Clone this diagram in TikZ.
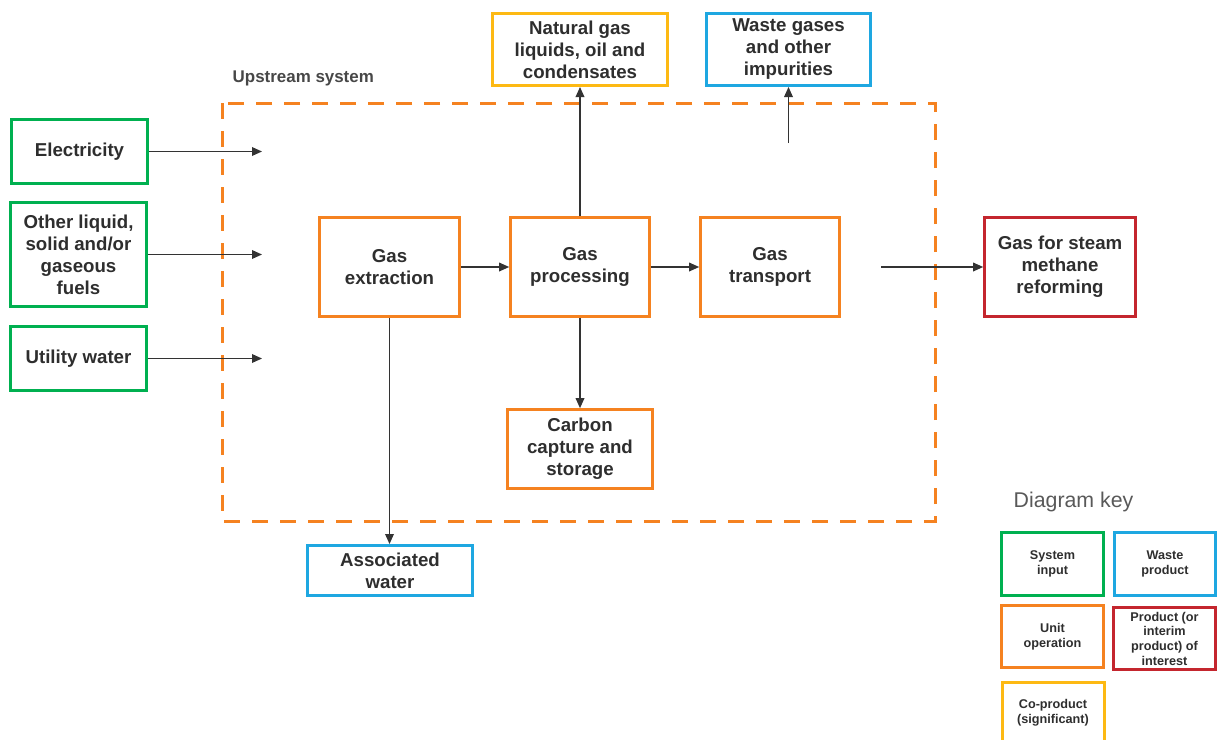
\documentclass[tikz,border=0pt]{standalone}
\usepackage{fontspec}
\setmainfont{Liberation Sans}
\usetikzlibrary{arrows.meta}
\definecolor{cgreen}{HTML}{00B050}
\definecolor{corange}{HTML}{F58220}
\definecolor{cblue}{HTML}{1EA7E1}
\definecolor{cred}{HTML}{C4262E}
\definecolor{cyellow}{HTML}{FDB913}
\definecolor{ctext}{HTML}{2E2E2E}
\definecolor{ckey}{HTML}{595959}
\definecolor{carrow}{HTML}{333333}
\tikzset{
  box/.style={draw, line width=2.25pt, fill=white, align=center, inner sep=0pt,
    text=ctext, font=\fontsize{14}{16.5}\selectfont\bfseries},
  inbox/.style={box, draw=cgreen},
  opbox/.style={box, draw=corange},
  wastebox/.style={box, draw=cblue},
  prodbox/.style={box, draw=cred},
  cobox/.style={box, draw=cyellow},
  keytext/.style={font=\fontsize{9.5}{11}\selectfont\bfseries},
  flow/.style={draw=carrow, line width=0.95pt, -{Triangle[length=7.5pt,width=6.5pt]}},
}
\begin{document}
\begin{tikzpicture}[x=0.75pt,y=-0.75pt]
\useasboundingbox (0,0) rectangle (1217,739);
% system boundary
\draw[corange, line width=2.25pt, dash pattern=on 12pt off 9pt] (222,103) rectangle (935,521);
\node[anchor=west, text=ckey!80!black, font=\fontsize{12.7}{15}\selectfont\bfseries] (ups) at (228,78) {Upstream system};

% inputs
\node[inbox, minimum width=102pt, minimum height=48pt] (elec) at (79.5,151.5) {Electricity};
\node[inbox, minimum width=102pt, minimum height=78pt] (fuel) at (78.5,254.5) {Other liquid,\\solid and/or\\gaseous\\fuels};
\node[inbox, minimum width=102pt, minimum height=48pt] (uwat) at (78.5,358.5) {Utility water};

\coordinate (ein) at (262,151.5);
\coordinate (fin) at (262,254.5);
\coordinate (win) at (262,358.5);

% unit operations
\node[opbox, minimum width=105pt, minimum height=74pt] (ext) at (389.5,267) {Gas\\extraction};
\node[opbox, minimum width=104pt, minimum height=74pt] (proc) at (580,267) {Gas\\processing};
\node[opbox, minimum width=104pt, minimum height=74pt] (trans) at (770,267) {Gas\\transport};
\node[opbox, minimum width=109pt, minimum height=59pt] (ccs) at (580,449) {Carbon\\capture and\\storage};

% outputs
\node[prodbox, minimum width=113pt, minimum height=74pt] (gsmr) at (1060,267) {Gas for steam\\methane\\reforming};
\node[cobox, minimum width=131pt, minimum height=54pt] (ngl) at (580,49.5) {Natural gas\\liquids, oil and\\condensates};
\node[wastebox, minimum width=123pt, minimum height=54pt] (wg) at (788.5,49.5) {Waste gases\\and other\\impurities};
\node[wastebox, minimum width=124pt, minimum height=37.5pt] (aw) at (390,570.5) {Associated\\water};

\coordinate (tout) at (881,267);
\coordinate (wgs) at (788.5,143);

% connectors
\draw[flow] (elec.east) -- (ein);
\draw[flow] (fuel.east) -- (fin);
\draw[flow] (uwat.east) -- (win);
\draw[flow] (ext.east) -- (proc.west);
\draw[flow] (proc.east) -- (trans.west);
\draw[flow] (tout) -- (gsmr.west);
\draw[flow] (proc.north) -- (ngl.south);
\draw[flow] (wgs) -- (wg.south);
\draw[flow] (proc.south) -- (ccs.north);
\draw[flow] (ext.south) -- (ext.south |- aw.north);

% key
\node[text=ckey, font=\fontsize{16}{19}\selectfont] (keyt) at (1073.5,502) {Diagram key};
\node[inbox, keytext, minimum width=76.5pt, minimum height=47pt] (k1) at (1052.5,564) {System\\input};
\node[wastebox, keytext, minimum width=76pt, minimum height=47pt] (k2) at (1165,564) {Waste\\product};
\node[opbox, keytext, minimum width=76.5pt, minimum height=46.5pt] (k3) at (1052.5,636.5) {Unit\\operation};
\node[prodbox, keytext, minimum width=76pt, minimum height=46.5pt] (k4) at (1164.5,638.5) {Product (or\\interim\\product) of\\interest};
\node[cobox, keytext, minimum width=76.5pt, minimum height=46pt] (k5) at (1053,713) {Co-product\\(significant)};
\end{tikzpicture}
\end{document}
